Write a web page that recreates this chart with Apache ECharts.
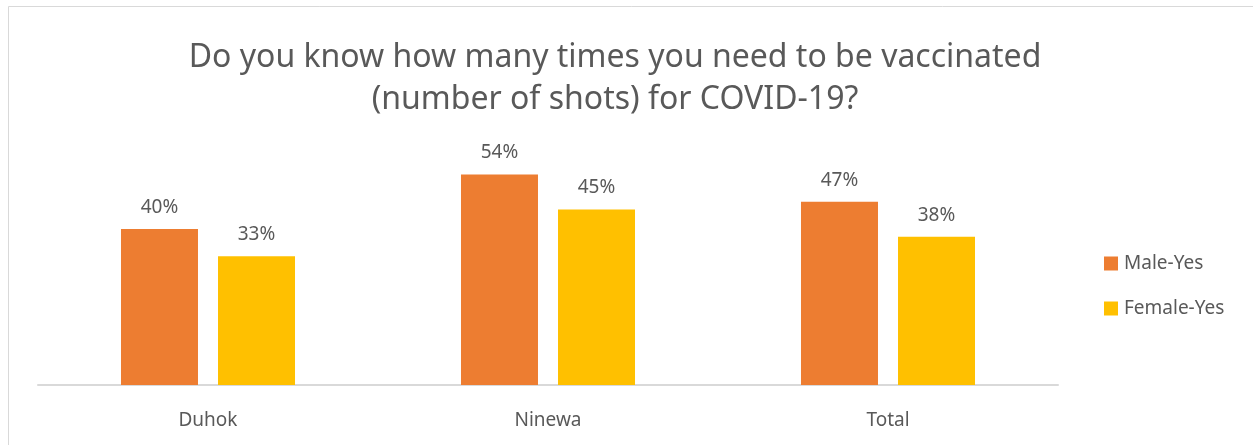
<!DOCTYPE html>
<html>
<head>
<meta charset="utf-8">
<script src="https://cdn.jsdelivr.net/npm/echarts@6/dist/echarts.min.js"></script>
<style>
  html, body { margin: 0; padding: 0; background: #fff; }
  #chart { width: 1253px; height: 445px; }
</style>
</head>
<body>
<div id="chart"></div>
<script>
// data
var categories = ['Duhok', 'Ninewa', 'Total'];
var maleYes = [40, 54, 47];
var femaleYes = [33, 45, 38];

var textColor = '#595959';
var font = '"Noto Sans", "Open Sans", sans-serif';

var myChart = echarts.init(document.getElementById('chart'));
var option = {
    backgroundColor: '#fff',
    animation: false,
    title: {
        text: 'Do you know how many times you need to be vaccinated\n(number of shots) for COVID-19?',
        left: 610,
        top: 32,
        textAlign: 'center',
        textStyle: {
            color: textColor,
            fontFamily: font,
            fontWeight: 'normal',
            fontSize: 32,
            lineHeight: 42
        }
    },
    legend: {
        orient: 'vertical',
        left: 1099,
        top: 249,
        itemWidth: 14,
        itemHeight: 14,
        itemGap: 26,
        icon: 'rect',
        textStyle: { color: textColor, fontFamily: font, fontSize: 19, padding: [0, 0, 0, 1] },
        data: ['Male-Yes', 'Female-Yes']
    },
    grid: { left: 38, right: 195, top: 151, bottom: 60 },
    xAxis: {
        type: 'category',
        data: categories,
        axisLine: { lineStyle: { color: '#D9D9D9', width: 2 } },
        axisTick: { show: false },
        axisLabel: { color: textColor, fontFamily: font, fontSize: 19, margin: 26 }
    },
    yAxis: {
        type: 'value',
        min: 0,
        max: 60,
        show: false
    },
    series: [
        {
            name: 'Male-Yes',
            type: 'bar',
            data: maleYes,
            barWidth: 77,
            barGap: '26%',
            itemStyle: { color: '#ED7D31' },
            label: {
                show: true, position: 'top', distance: 12,
                formatter: '{c}%', color: textColor, fontFamily: font, fontSize: 19
            }
        },
        {
            name: 'Female-Yes',
            type: 'bar',
            data: femaleYes,
            barWidth: 77,
            itemStyle: { color: '#FFC000' },
            label: {
                show: true, position: 'top', distance: 12,
                formatter: '{c}%', color: textColor, fontFamily: font, fontSize: 19
            }
        }
    ],
    graphic: [{
        type: 'rect',
        shape: { x: 8.5, y: 6.5, width: 1400, height: 600 },
        style: { fill: 'none', stroke: '#D9D9D9', lineWidth: 1 },
        silent: true
    }]
};
myChart.setOption(option);
window.onresize = myChart.resize;
</script>
</body>
</html>
